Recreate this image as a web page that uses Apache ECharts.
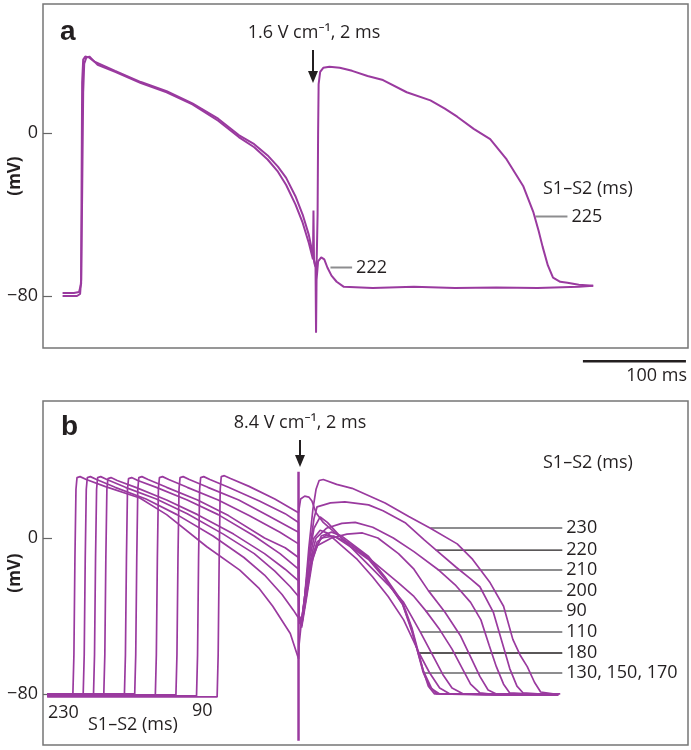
<!DOCTYPE html>
<html>
<head>
<meta charset="utf-8">
<script src="https://cdn.jsdelivr.net/npm/echarts@6/dist/echarts.min.js"></script>
<style>html,body{margin:0;background:#fff}#main{width:691px;height:750px}</style>
</head>
<body>
<div id="main"></div>
<script>
// time in ms from left edge of each panel, voltage in mV
var yTicks = [-80, 0];

// panel a: S1 beat + S2 at 222 ms (no response) and 225 ms (captured)
var a222 = [[19,-78.5],[30,-78.5],[35,-78],[37,-74],[38,-30],[39,20],[40,34],[42,37],[45,37.5],[48,36],[53,33.5],[70,30],[95,24.5],[120,20],[145,14],[170,6],[190,-2],[205,-7],[218,-13],[228,-19],[236,-25.5],[245,-35],[252,-44],[258,-54],[262,-62],[262.5,-38],[263,-62],[264.5,-66],[265,-98],[265.5,-72],[267,-63],[270,-61],[273,-62],[276,-66],[280,-70],[285,-73],[292,-75.5],[320,-76],[360,-75.5],[400,-76],[440,-75.8],[480,-76],[520,-75.5],[534,-75]];
var a225 = [[19,-80],[33,-80],[36,-79],[37,-72],[37.5,-20],[38,25],[39,36],[41,37.5],[45,37],[50,35],[70,30.5],[95,25],[120,20.5],[145,14.5],[170,7],[190,-1],[205,-5.5],[218,-11],[228,-16.5],[236,-22],[245,-31],[252,-40],[258,-50],[262,-60],[264,-65],[265.5,-66],[266.5,-40],[267,0],[267.5,24],[269,30],[272,32],[278,32.5],[288,32],[300,30.5],[315,28],[330,26],[353,20],[376,16],[390,12],[402,8],[418,2],[434,-3],[450,-13],[466,-26],[476,-39],[481,-48],[485,-56],[490,-65],[495,-71],[502,-73],[509,-73.5],[520,-74.5],[534,-75]];
var aLabels = ['225', '222'];
var aLabelStart = [478, 279];
var aLabelEnd = [509, 300];
var aLabelLevel = [-41, -66];
var scaleBar = [[524,-112],[624,-112]];

// panel b: S1-S2 intervals 230 ... 90 ms, S2 = 8.4 V/cm at t = 248
var b230 = [[4,-80],[29,-80],[30,-60],[31,-10],[32,25],[33,31],[36,31.5],[42,30],[60,26.5],[94,20.5],[120,12],[159,-4.5],[191,-16.5],[210,-26],[223,-35],[240,-49],[248,-62],
  [248.5,-55],[251,-42],[254,-30],[258,-5],[262,15],[265,25],[268,29.5],[272,30],[285,27.5],[300,25.5],[332,18],[355,11],[376,5],[402,-3],[417,-11],[434,-23],[447,-35],[456,-52],[463,-60],[470,-66],[477,-74],[483,-79],[495,-80],[502,-80]];
var b220 = [[4,-80],[39,-80],[40,-60],[41,-10],[42,25],[43,31],[46,31.5],[52,30],[70,26],[100,20],[130,12],[165,1],[195,-10],[215,-19],[232,-29],[243,-37],[248,-41],
  [248.5,-44],[251,-42],[255,-28],[259,-5],[263,10],[266,16],[279,18],[293,18.5],[316,17],[330,14],[352,7.7],[370,-1],[381,-6],[401,-15],[415,-21],[424,-25],[437,-38],[447,-56],[453,-67],[460,-76],[466,-79.5],[480,-80],[500,-80]];
var b210 = [[4,-80.5],[49,-80.5],[50,-60],[51,-10],[52,25],[53,31],[56,31.5],[62,30],[80,26],[110,20],[140,12.5],[175,2],[205,-8],[225,-17],[240,-25],[248,-30],
  [248.5,-40],[251,-43],[255,-30],[260,-10],[265,0],[275,5],[290,7.5],[303,8],[320,5.5],[340,0],[360,-7],[383,-16],[400,-24],[415,-33],[425,-42],[433,-55],[440,-66],[447,-75],[453,-79.5],[470,-80],[500,-80.5]];
var b200 = [[4,-80],[59,-80],[60,-60],[61,-10],[62,25],[63,30.5],[66,31],[72,29.5],[90,26],[120,19.5],[150,12],[185,2],[215,-8],[235,-16],[248,-22],
  [248.5,-40],[251,-44],[255,-32],[260,-14],[266,-4],[280,0],[295,2],[310,2.6],[325,0],[345,-8],[360,-16],[374,-27],[390,-38],[405,-50],[415,-61],[424,-71],[432,-78],[440,-80],[470,-80],[500,-80.5]];
var b180 = [[4,-80.5],[79,-80.5],[80,-60],[81,-10],[82,25],[83,30.5],[86,31],[92,29.5],[110,26],[140,19.5],[170,12],[205,1],[230,-8],[248,-16],
  [248.5,-40],[251,-44],[254,-30],[258,-12],[263,0],[269,4],[276,2.5],[290,-4],[305,-11],[320,-20],[335,-30],[350,-42],[365,-59],[375,-69],[385,-77],[395,-80],[430,-80],[500,-80.5]];
var b170 = [[4,-80],[89,-80],[90,-60],[91,-10],[92,25],[93,31],[96,31.5],[102,30],[120,26],[150,19.5],[180,11.5],[215,0],[235,-5],[248,-10],
  [248.5,-40],[251,-45],[255,-30],[260,-12],[266,-2],[275,1.5],[284,0.5],[300,-5],[316,-11],[332,-21],[349,-34],[358,-47],[369,-69],[376,-77],[385,-80],[430,-80.5],[500,-80.5]];
var b150 = [[4,-81],[109,-81],[110,-60],[111,-10],[112,25],[113,31],[116,31.5],[122,30],[140,26],[170,19.5],[200,11.5],[230,3],[248,-3],
  [248.5,-40],[251,-45],[256,-28],[262,-8],[270,0],[282,1],[295,-2],[316,-10],[332,-20.5],[349,-34],[358,-48],[369,-68],[377,-77],[382,-80],[430,-80],[500,-80]];
var b130 = [[4,-80.5],[129,-80.5],[130,-60],[131,-10],[132,25],[133,31],[136,31.5],[142,30],[160,26],[190,19.5],[220,11],[248,3],
  [248.5,-40],[251,-46],[256,-30],[262,-10],[270,1],[280,3],[290,1],[316,-9.5],[332,-20],[349,-33],[358,-46],[369,-68],[374,-76],[380,-80],[430,-80],[500,-80]];
var b110 = [[4,-81],[149,-81],[150,-60],[151,-10],[152,25],[153,31],[156,31.5],[162,30],[180,26],[210,19],[235,12.5],[248,8],
  [248.5,-40],[251,-43],[254,-30],[258,-10],[263,5],[269,10.8],[276,8],[290,0],[305,-8],[320,-16],[335,-24],[350,-33],[366,-48],[378,-60],[388,-70],[397,-77],[408,-80],[440,-80.5],[500,-80.5]];
var b90 = [[4,-81.5],[169,-81.5],[170,-60],[171,-10],[172,25],[173,31.5],[176,32],[182,30.5],[200,26.5],[225,20],[248,13],
  [248.5,14],[250,20],[254,21.5],[258,21],[261,19],[265,13],[272,8],[285,2],[300,-4],[320,-12],[345,-23],[360,-30],[371,-37],[385,-47],[397,-57],[407,-67],[415,-75],[424,-79.5],[440,-80.5],[470,-80.5],[500,-80.5]];
var stimB = [[248,34],[248,-104]];
var bLabels = ['230', '220', '210', '200', '90', '110', '180', '130, 150, 170'];
var bLabelStart = [376, 381, 383, 374, 371, 366, 365, 369];
var bLabelLevel = [5.1, -6.2, -16.4, -27.2, -37.4, -48.2, -59, -69.2];
var bLabelEnd = 504;

var PURPLE = '#9a3a9f';
var INK = '#231f20';
var GREY = '#8d8d8f';
var FONT = '"Open Sans", "Noto Sans", sans-serif';
var bLeaderColors = [GREY, INK, GREY, GREY, GREY, GREY, INK, GREY];

var chart = echarts.init(document.getElementById('main'));

function trace(data, gi, w) {
  return {
    type: 'line', xAxisIndex: gi, yAxisIndex: gi, data: data,
    symbol: 'none', silent: true, z: 3,
    lineStyle: { color: PURPLE, width: w }
  };
}
function leader(name, gi, x0, x1, y, color, gap) {
  return {
    type: 'line', name: name, xAxisIndex: gi, yAxisIndex: gi,
    data: [[x0, y], [x1, y]], symbol: 'none', silent: true, z: 2,
    lineStyle: { color: color, width: color === INK ? 1.4 : 2 },
    endLabel: {
      show: true, distance: gap, color: INK, fontSize: 18, fontFamily: FONT,
      formatter: function (p) { return p.seriesName; }
    }
  };
}
function yAxis(gi, mn, mx) {
  return {
    gridIndex: gi, type: 'value', min: mn, max: mx,
    name: '(mV)', nameLocation: 'middle', nameGap: 19, nameMoveOverlap: false,
    nameTextStyle: { fontWeight: 'bold', fontSize: 17, color: INK, fontFamily: FONT },
    axisLine: { show: false }, splitLine: { show: false },
    axisTick: { show: true, inside: true, length: 9, customValues: yTicks, lineStyle: { color: '#666', width: 1.2 } },
    axisLabel: {
      customValues: yTicks, margin: 5, fontSize: 18, color: INK, fontFamily: FONT,
      formatter: function (v) { return v < 0 ? '\u2212' + Math.abs(v) : String(v); }
    }
  };
}
function arrow(x, y0, y1) {
  return [
    { type: 'line', shape: { x1: x, y1: y0, x2: x, y2: y1 - 8 }, style: { stroke: INK, lineWidth: 2 } },
    { type: 'polygon', shape: { points: [[x - 5, y1 - 12], [x + 5, y1 - 12], [x, y1]] }, style: { fill: INK } }
  ];
}
function txt(x, y, s, opts) {
  var st = { x: x, y: y, text: s, fill: INK, font: '18px ' + FONT, align: 'left', verticalAlign: 'middle' };
  for (var k in opts) st[k] = opts[k];
  return { type: 'text', style: st, z: 10 };
}

var series = [
  trace(a222, 0, 2), trace(a225, 0, 2),
  { type: 'line', xAxisIndex: 0, yAxisIndex: 0, data: scaleBar, symbol: 'none', clip: false, silent: true, lineStyle: { color: INK, width: 2.5 } }
];
aLabels.forEach(function (n, i) { series.push(leader(n, 0, aLabelStart[i], aLabelEnd[i], aLabelLevel[i], GREY, 4)); });
[b230, b220, b210, b200, b180, b170, b150, b130, b110, b90].forEach(function (d) { series.push(trace(d, 1, 1.7)); });
series.push(trace(stimB, 1, 2.5));
bLabels.forEach(function (n, i) { series.push(leader(n, 1, bLabelStart[i], bLabelEnd, bLabelLevel[i], bLeaderColors[i], 4)); });

var graphics = [
  txt(60, 32, 'a', { font: 'bold 28px "Liberation Sans", sans-serif' }),
  txt(314, 33, '1.6 V cm\u207B\u00B9, 2 ms', { align: 'center' }),
  txt(543, 189, 'S1\u2013S2 (ms)'),
  txt(687, 376, '100 ms', { align: 'right' }),
  txt(61, 427, 'b', { font: 'bold 28px "Liberation Sans", sans-serif' }),
  txt(300, 423, '8.4 V cm\u207B\u00B9, 2 ms', { align: 'center' }),
  txt(543, 463, 'S1\u2013S2 (ms)'),
  txt(48, 713, '230'),
  txt(192, 711, '90'),
  txt(88, 725, 'S1\u2013S2 (ms)')
].concat(arrow(313, 50, 83), arrow(300, 440, 467));

chart.setOption({
  animation: false,
  backgroundColor: '#fff',
  grid: [
    { left: 43, top: 4, right: 3, height: 344, show: true, borderColor: '#767676', borderWidth: 1.5, containLabel: false, outerBoundsMode: 'none' },
    { left: 43, top: 401, right: 3, height: 344, show: true, borderColor: '#767676', borderWidth: 1.5, containLabel: false, outerBoundsMode: 'none' }
  ],
  xAxis: [
    { gridIndex: 0, type: 'value', min: 0, max: 626, show: false },
    { gridIndex: 1, type: 'value', min: 0, max: 626, show: false }
  ],
  yAxis: [yAxis(0, -105.5, 63.3), yAxis(1, -106.2, 70.3)],
  series: series,
  graphic: graphics
});
</script>
</body>
</html>
